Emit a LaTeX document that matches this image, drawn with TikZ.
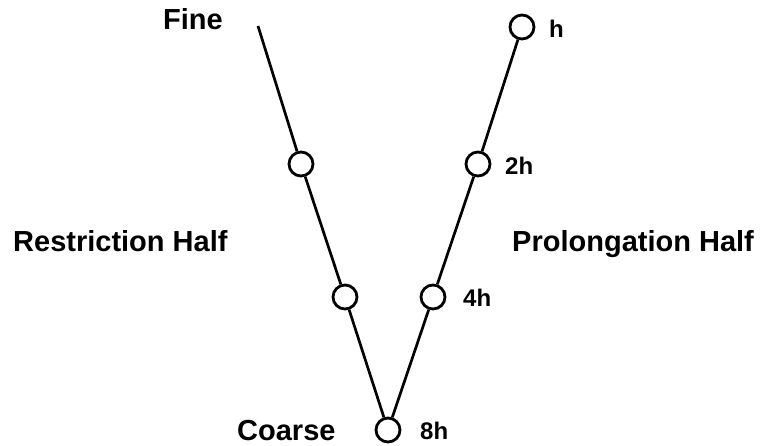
\documentclass[tikz,border=0pt]{standalone}
\usepackage{fontspec}
\setmainfont{Liberation Sans}
\begin{document}
\begin{tikzpicture}[x=1pt,y=-1pt,
  lvl/.style={circle,draw,line width=2.8pt,minimum size=24pt,inner sep=0pt,fill=white},
  conn/.style={line width=2.7pt},
  big/.style={font=\fontsize{29}{29}\selectfont\bfseries,anchor=base west,inner sep=0pt},
  small/.style={font=\fontsize{24}{24}\selectfont\bfseries,anchor=base west,inner sep=0pt}]
\useasboundingbox (0,0) rectangle (762,445);
\coordinate (top) at (258,26);
\node[lvl] (l1) at (301,164) {};
\node[lvl] (l2) at (345,297) {};
\node[lvl] (c) at (388,430) {};
\node[lvl] (r2) at (433,297) {};
\node[lvl] (r1) at (478,164) {};
\node[lvl] (r0) at (522,27) {};
\draw[conn] (top) -- (l1) -- (l2) -- (c) -- (r2) -- (r1) -- (r0);
\node[big] (fine) at (163,29) {Fine};
\node[big] (coarse) at (237,440) {Coarse};
\node[big] (rest) at (13,251) {Restriction Half};
\node[big] (prol) at (512,251) {Prolongation Half};
\node[small] (h) at (549,37) {h};
\node[small] (h2) at (505,174) {2h};
\node[small] (h4) at (463,306) {4h};
\node[small] (h8) at (420,439) {8h};
\end{tikzpicture}
\end{document}
